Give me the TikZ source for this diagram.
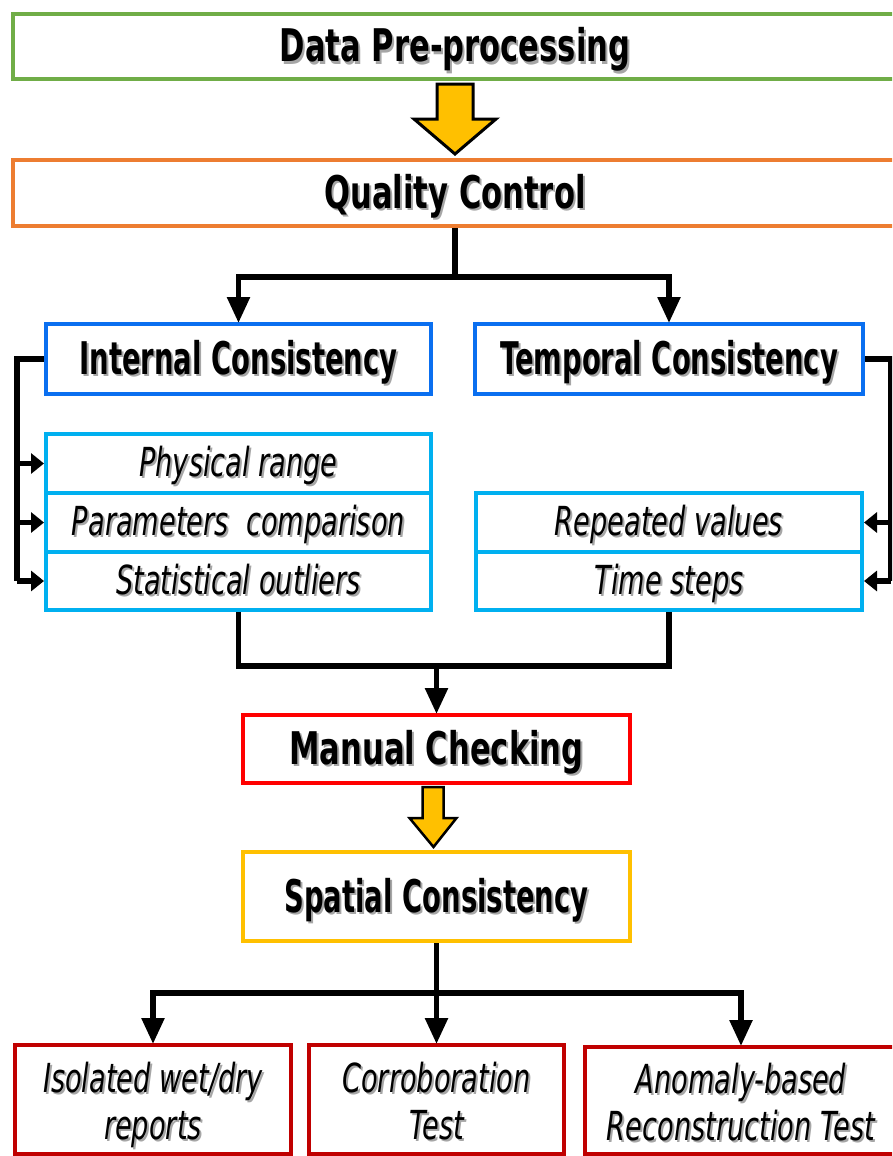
\documentclass[tikz,border=0pt]{standalone}
\usepackage{fontspec}
\usetikzlibrary{arrows.meta,calc}
\newfontfamily\headfont[FakeStretch=0.68]{DejaVu Sans}
\newfontfamily\narrowfont[FakeStretch=0.61]{DejaVu Sans}
\definecolor{cgreen}{HTML}{70AD47}
\definecolor{corange}{HTML}{ED7D31}
\definecolor{cblue}{HTML}{0A6FF0}
\definecolor{clight}{HTML}{00B0F0}
\definecolor{cred}{HTML}{FF0000}
\definecolor{cgold}{HTML}{FFC000}
\definecolor{cdark}{HTML}{C00000}
% text with a soft grey drop shadow
\newcommand{\shadowtext}[1]{\makebox[0pt][l]{\hspace{2pt}\raisebox{-2pt}{\textcolor{black!35}{#1}}}#1}
\tikzset{
  box/.style={draw, line width=4pt, rectangle, inner sep=0pt, align=center},
  title/.style={box, font=\headfont\bfseries\fontsize{45}{50}\selectfont, text height=40pt, text depth=9pt},
  ntitle/.style={title, font=\narrowfont\bfseries\fontsize{45}{50}\selectfont},
  item/.style={box, font=\headfont\itshape\fontsize{40}{47}\selectfont, text height=35pt, text depth=9pt},
  twoline/.style={item, text height=83pt, text depth=3pt},
  conn/.style={draw=black, line width=5.5pt},
  down/.style={conn, -{Triangle[width=22pt,length=26pt]}, shorten >=-1pt},
  side/.style={conn, -{Triangle[width=20pt,length=13pt]}},
  fat/.style={draw=black, line width=3pt, fill=cgold, line join=miter},
}
\begin{document}
\begin{tikzpicture}[x=1pt,y=-1pt]
\path[use as bounding box] (0,0) rectangle (892,1156);
\clip (0,0) rectangle (892,1156);

% top stage
\node[title, draw=cgreen, minimum width=884, minimum height=65] (dp) at (455,46.5) {\shadowtext{Data Pre-processing}};
\node[title, draw=corange, minimum width=884, minimum height=66] (qc) at (455,193) {\shadowtext{Quality Control}};

% consistency groups
\node[ntitle, draw=cblue, minimum width=385, minimum height=70] (ic) at (238.5,359) {\shadowtext{Internal Consistency}};
\node[ntitle, draw=cblue, minimum width=388, minimum height=70] (tc) at (669,359) {\shadowtext{Temporal Consistency}};

\node[item, draw=clight, minimum width=385, minimum height=59] (phys) at (238.5,463.5) {\shadowtext{Physical range}};
\node[item, draw=clight, minimum width=385, minimum height=59] (par) at (238.5,522.5) {\shadowtext{Parameters~ comparison}};
\node[item, draw=clight, minimum width=385, minimum height=58] (stat) at (238.5,581) {\shadowtext{Statistical outliers}};

\node[item, draw=clight, minimum width=386, minimum height=59] (rep) at (669,522.5) {\shadowtext{Repeated values}};
\node[item, draw=clight, minimum width=386, minimum height=58] (ts) at (669,581) {\shadowtext{Time steps}};

% manual and spatial stages
\node[title, draw=cred, minimum width=387, minimum height=68] (mc) at (436.5,749) {\shadowtext{Manual Checking}};
\node[ntitle, draw=cgold, minimum width=387, minimum height=89] (sc) at (436.5,896.5) {\shadowtext{Spatial Consistency}};

% spatial tests
\node[twoline, draw=cdark, minimum width=276, minimum height=109] (iso) at (153,1099.5) {\shadowtext{Isolated wet/dry}\\\shadowtext{reports}};
\node[twoline, draw=cdark, minimum width=255, minimum height=109] (cor) at (436.5,1099.5) {\shadowtext{Corroboration}\\\shadowtext{Test}};
\node[twoline, draw=cdark, minimum width=312, minimum height=107] (ano) at (741,1100.5) {\shadowtext{Anomaly-based}\\\shadowtext{Reconstruction Test}};

% block arrow between pre-processing and quality control
\draw[fat] ($(dp.south)+(-18,3)$) -- ($(dp.south)+(18,3)$) -- ($(dp.south)+(18,38)$)
  -- ($(dp.south)+(41,38)$) -- ($(qc.north)+(0,-4)$) -- ($(dp.south)+(-41,38)$)
  -- ($(dp.south)+(-18,38)$) -- cycle;

% split to the two consistency groups
\coordinate (qs) at ($(qc.south)+(0,49)$);
\draw[conn] (qc.south) -- (qs);
\draw[down] (qs) -| (ic.north);
\draw[down] (qs) -| (tc.north);

% internal checks
\coordinate (lx) at (17,359);
\draw[conn] (ic.west) -- (lx) -- (lx |- stat.west);
\draw[side] (lx |- phys.west) -- (phys.west);
\draw[side] (lx |- par.west) -- (par.west);
\draw[side] (lx |- stat.west) -- (stat.west);

% temporal checks
\coordinate (rx) at (891,359);
\draw[conn] (tc.east) -- (rx) -- (rx |- ts.east);
\draw[side] (rx |- rep.east) -- (rep.east);
\draw[side] (rx |- ts.east) -- (ts.east);

% merge into manual checking
\coordinate (mj) at ($(stat.south)+(0,54)$);
\coordinate (mm) at (mc.north |- mj);
\draw[conn, line join=miter] (stat.south) -- (mj) -| (ts.south);
\draw[down] (mm) -- (mc.north);

% block arrow between manual checking and spatial consistency
\draw[fat, line width=2.5pt] ($(mc.south)+(-14,2)$) -- ($(mc.south)+(7,2)$) -- ($(mc.south)+(7,33)$)
  -- ($(mc.south)+(20,33)$) -- ($(sc.north)+(-3,-3)$) -- ($(mc.south)+(-27,33)$)
  -- ($(mc.south)+(-14,33)$) -- cycle;

% split to the spatial tests
\coordinate (ss) at ($(sc.south)+(0,50)$);
\draw[conn] (sc.south) -- (ss);
\draw[down] (ss) -| (iso.north);
\draw[down] (ss) -- (cor.north);
\draw[down] (ss) -| (ano.north);
\end{tikzpicture}
\end{document}
